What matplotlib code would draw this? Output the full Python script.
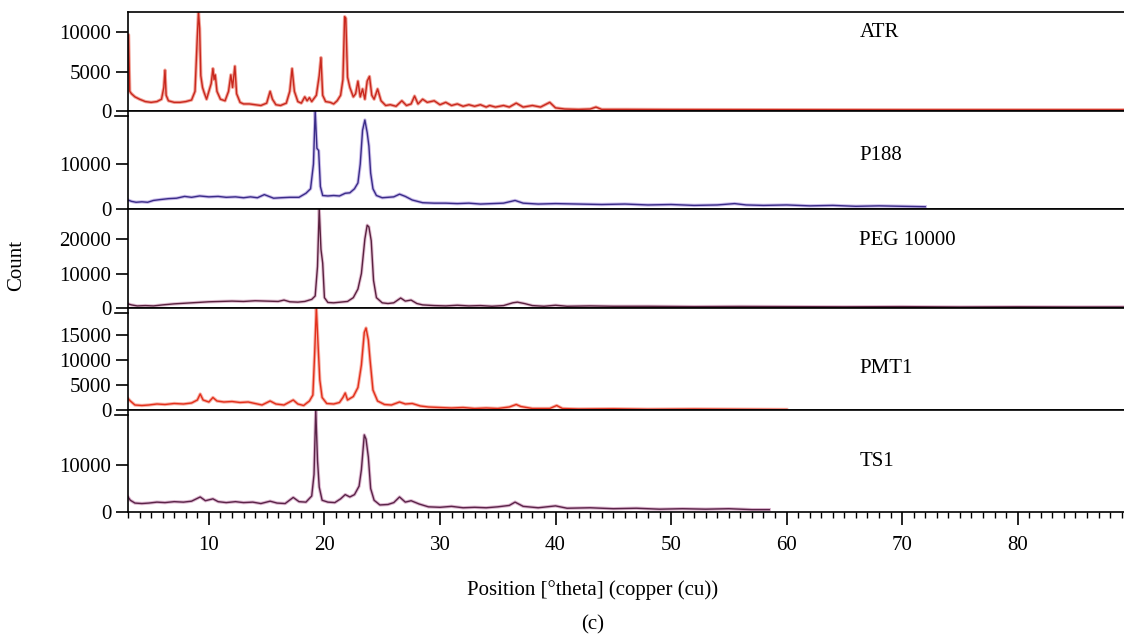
import matplotlib
matplotlib.use('Agg')
import matplotlib.pyplot as plt
from matplotlib.ticker import MultipleLocator

plt.rcParams['font.family'] = ['Liberation Serif', 'DejaVu Serif']

# 2theta / count pairs
atr_x = [3.0, 3.05, 3.15, 3.3, 3.6, 4.0, 4.5, 5.0, 5.5, 5.9, 6.1, 6.2, 6.3, 6.5, 7.0, 7.5, 8.0, 8.5, 8.8,
         9.0, 9.1, 9.2, 9.3, 9.45, 9.6, 9.8, 10.0, 10.2, 10.35, 10.45, 10.55, 10.7, 11.0, 11.4, 11.7, 11.9,
         12.05, 12.25, 12.4, 12.7, 13.0, 13.5, 14.0, 14.5, 15.0, 15.3, 15.5, 15.8, 16.2, 16.7, 17.0, 17.2,
         17.4, 17.7, 18.0, 18.3, 18.5, 18.7, 18.9, 19.1, 19.3, 19.55, 19.7, 19.85, 20.1, 20.5, 20.8, 21.1,
         21.4, 21.6, 21.75, 21.85, 22.0, 22.2, 22.5, 22.7, 22.9, 23.1, 23.3, 23.5, 23.7, 23.9, 24.1, 24.3,
         24.6, 24.9, 25.3, 25.7, 26.2, 26.7, 27.1, 27.5, 27.8, 28.1, 28.5, 28.9, 29.5, 30.0, 30.5, 31.0,
         31.5, 32.0, 32.5, 33.0, 33.5, 34.0, 34.3, 34.8, 35.5, 36.0, 36.6, 37.2, 38.0, 38.7, 39.5, 40.0,
         40.8, 42.0, 43.0, 43.5, 44.0, 46.0, 50.0, 55.0, 60.0, 65.0, 70.0, 75.0, 80.0, 85.0, 89.2]
atr_y = [9700, 9700, 2500, 2200, 1800, 1500, 1200, 1100, 1200, 1500, 3000, 5200, 2000, 1300, 1100, 1100, 1200,
         1400, 2500, 9500, 12600, 10500, 4500, 3000, 2300, 1500, 2500, 3500, 5400, 4000, 4600, 2500, 1500,
         1300, 2500, 4600, 3000, 5700, 2200, 1100, 900, 900, 800, 700, 1000, 2500, 1500, 800, 700, 1000,
         2500, 5400, 2500, 1200, 1000, 1800, 1300, 1700, 1200, 1600, 2000, 4500, 6800, 2000, 1200, 1100,
         900, 1300, 2000, 4000, 12000, 11800, 4300, 3000, 1800, 2200, 3800, 1800, 2800, 1500, 3800, 4400,
         2000, 1500, 2800, 1300, 700, 800, 600, 1300, 700, 900, 1900, 900, 1500, 1100, 1300, 800, 1100,
         700, 900, 600, 800, 600, 800, 500, 700, 500, 700, 500, 1000, 500, 700, 500, 1100, 400, 250, 200,
         250, 500, 200, 200, 180, 170, 160, 150, 150, 150, 150, 150, 150]

p188_x = [3.0, 3.3, 3.7, 4.2, 4.7, 5.2, 5.8, 6.5, 7.2, 7.9, 8.5, 9.2, 10.0, 10.8, 11.5, 12.3, 13.0, 13.6,
          14.2, 14.8, 15.2, 15.6, 16.2, 17.0, 17.8, 18.4, 18.8, 19.05, 19.2, 19.35, 19.5, 19.65, 19.85,
          20.3, 20.8, 21.3, 21.8, 22.2, 22.6, 22.9, 23.1, 23.3, 23.5, 23.7, 23.85, 24.0, 24.2, 24.5, 25.0,
          25.5, 26.0, 26.5, 27.0, 27.6, 28.5, 29.5, 30.5, 31.5, 32.5, 33.5, 34.5, 35.5, 36.5, 37.2, 38.5,
          40.0, 42.0, 44.0, 46.0, 48.0, 50.0, 52.0, 54.0, 55.5, 56.5, 58.0, 60.0, 62.0, 64.0, 66.0, 68.0,
          70.0, 72.0]
p188_y = [2000, 1700, 1500, 1600, 1500, 1900, 2100, 2300, 2400, 2800, 2600, 2900, 2700, 2800, 2600, 2700,
          2500, 2700, 2500, 3200, 2800, 2400, 2500, 2600, 2600, 3500, 4500, 10000, 21800, 13500, 13000, 5000,
          3000, 2900, 3000, 2900, 3500, 3600, 4500, 5800, 10000, 17500, 19800, 17000, 14000, 8000, 4500, 3000,
          2500, 2600, 2700, 3300, 2800, 2000, 1400, 1300, 1300, 1200, 1300, 1100, 1200, 1300, 1900, 1300, 1100,
          1200, 1100, 1000, 1100, 900, 1000, 800, 900, 1200, 900, 800, 900, 700, 800, 600, 700, 600, 500]

peg_x = [3.0, 3.3, 3.8, 4.5, 5.2, 6.0, 7.0, 8.0, 9.0, 10.0, 11.0, 12.0, 13.0, 14.0, 15.0, 16.0, 16.5, 17.0,
         17.7, 18.3, 18.9, 19.2, 19.4, 19.55, 19.7, 19.85, 20.0, 20.3, 20.8, 21.4, 22.0, 22.5, 22.9, 23.2,
         23.5, 23.7, 23.85, 24.05, 24.25, 24.5, 25.0, 25.5, 26.0, 26.6, 27.0, 27.5, 28.0, 28.5, 29.5, 30.5,
         31.5, 32.5, 33.5, 34.5, 35.5, 36.3, 36.7, 37.3, 38.0, 39.0, 40.0, 41.0, 43.0, 45.0, 48.0, 52.0,
         56.0, 60.0, 65.0, 70.0, 75.0, 80.0, 85.0, 89.2]
peg_y = [1200, 900, 600, 700, 600, 900, 1200, 1400, 1600, 1800, 1900, 2000, 1900, 2100, 2000, 1900, 2300,
         1800, 1700, 1900, 2500, 3500, 12000, 28700, 17000, 13000, 3000, 1600, 1500, 1700, 1900, 3000, 5500,
         10000, 20000, 24000, 23500, 19500, 8000, 3000, 1500, 1300, 1500, 2900, 2000, 2300, 1300, 900, 700,
         600, 800, 600, 700, 500, 700, 1500, 1700, 1300, 700, 500, 800, 500, 600, 500, 500, 400, 450, 400,
         350, 400, 300, 350, 300, 300]

pmt1_x = [3.0, 3.2, 3.6, 4.2, 4.8, 5.5, 6.2, 7.0, 7.8, 8.5, 9.0, 9.25, 9.5, 10.0, 10.35, 10.7, 11.3, 12.0,
          12.7, 13.4, 14.0, 14.6, 15.3, 15.8, 16.5, 17.3, 17.7, 18.2, 18.7, 19.0, 19.15, 19.3, 19.45, 19.6,
          19.8, 20.2, 20.8, 21.3, 21.6, 21.8, 22.0, 22.5, 22.9, 23.2, 23.45, 23.6, 23.8, 23.95, 24.2, 24.6,
          25.2, 25.8, 26.5, 27.0, 27.6, 28.3, 29.0, 30.0, 31.0, 32.0, 33.0, 34.0, 35.0, 36.0, 36.6, 37.0,
          38.0, 39.5, 40.1, 40.6, 42.0, 45.0, 48.0, 52.0, 56.0, 60.0]
pmt1_y = [2300, 1800, 1000, 900, 1000, 1200, 1100, 1300, 1200, 1400, 2000, 3200, 2000, 1600, 2500, 1800,
          1600, 1700, 1500, 1600, 1300, 1000, 1800, 1200, 1000, 2000, 1200, 900, 1800, 3000, 11000, 20400,
          13000, 6000, 2500, 1300, 1200, 1500, 2500, 3400, 2000, 2700, 4500, 9000, 15500, 16400, 14000, 10000,
          4000, 1800, 1100, 1000, 1600, 1200, 1300, 800, 600, 500, 400, 500, 300, 400, 300, 600, 1100, 700,
          300, 300, 900, 300, 200, 250, 150, 200, 150, 100]

ts1_x = [3.0, 3.2, 3.6, 4.2, 4.8, 5.5, 6.2, 7.0, 7.8, 8.5, 9.25, 9.7, 10.35, 10.8, 11.5, 12.3, 13.0, 13.8,
         14.5, 15.3, 15.9, 16.6, 17.3, 17.8, 18.4, 18.9, 19.1, 19.25, 19.4, 19.55, 19.8, 20.3, 20.9, 21.4,
         21.8, 22.2, 22.6, 23.0, 23.2, 23.45, 23.6, 23.8, 24.0, 24.3, 24.8, 25.5, 26.0, 26.5, 27.0, 27.5,
         28.2, 29.0, 30.0, 31.0, 32.0, 33.0, 34.0, 35.0, 36.0, 36.5, 37.2, 38.5, 40.0, 41.0, 43.0, 45.0,
         47.0, 49.0, 51.0, 53.0, 55.0, 57.0, 58.5]
ts1_y = [3200, 2500, 1900, 1800, 1900, 2100, 2000, 2200, 2100, 2300, 3200, 2400, 2800, 2200, 2000, 2200,
         2000, 2100, 1800, 2300, 1900, 1800, 3100, 2200, 2100, 3400, 8000, 21700, 11000, 5300, 2500, 2100,
         2000, 2800, 3700, 3200, 3700, 5500, 9000, 16400, 15500, 11700, 5000, 2500, 1500, 1600, 2000, 3200,
         2100, 2400, 1700, 1100, 1000, 1200, 900, 1000, 900, 1100, 1400, 2100, 1200, 900, 1300, 800, 900,
         700, 800, 600, 700, 600, 700, 500, 500]

names = ['ATR', 'P188', 'PEG 10000', 'PMT1', 'TS1']
xs = [atr_x, p188_x, peg_x, pmt1_x, ts1_x]
ys = [atr_y, p188_y, peg_y, pmt1_y, ts1_y]
ytops = [12600, 21800, 28700, 20400, 21700]
yticks = [[0, 5000, 10000], [0, 10000], [0, 10000, 20000], [0, 5000, 10000, 15000], [0, 10000]]
label_y = [0.79, 0.55, 0.68, 0.41, 0.50]

dark = ['#c8281e', '#3a2c88', '#5a2240', '#e2301c', '#5a2448']
light = ['#f2a49a', '#c9bbe9', '#e2bfd2', '#f7b0a6', '#dcb5cf']

W, H = 1124, 637
edges = [12, 111, 209, 308, 410, 512]
fs = 15

fig = plt.figure(figsize=(W / 100, H / 100), dpi=100)
axes = []
for i in range(5):
    top, bot = edges[i], edges[i + 1]
    ax = fig.add_axes([128 / W, 1 - bot / H, 1 - 128 / W, (bot - top) / H])
    ax.plot(xs[i], ys[i], color=light[i], lw=2.4, solid_joinstyle='round')
    ax.plot(xs[i], ys[i], color=dark[i], lw=1.0)
    ax.set_xlim(3, 89.2)
    ax.set_ylim(0, ytops[i])
    ax.set_yticks(yticks[i])
    ax.spines['right'].set_visible(False)
    for s in ['left', 'top', 'bottom']:
        ax.spines[s].set_linewidth(1.2)
    ax.tick_params(axis='y', direction='out', length=9, width=1.2, labelsize=fs, pad=3)
    ax.text(66.3, label_y[i], names[i], transform=ax.get_xaxis_transform(),
            fontsize=fs, va='center', ha='left')
    if i in (1, 3, 4):
        # axis break mark just under the panel's top
        ax.plot([-0.013, 0], [0.95, 0.95], transform=ax.transAxes, color='k', lw=1.2, clip_on=False)
    if i < 4:
        ax.tick_params(axis='x', bottom=False, labelbottom=False)
    else:
        ax.xaxis.set_major_locator(MultipleLocator(10))
        ax.xaxis.set_minor_locator(MultipleLocator(1))
        ax.tick_params(axis='x', which='major', direction='out', length=9, width=1.2, labelsize=fs, pad=8)
        ax.tick_params(axis='x', which='minor', direction='out', length=4.5, width=1.0)
    axes.append(ax)

fig.text(17 / W, 1 - 265 / H, 'Count', rotation=90, ha='center', va='center', fontsize=fs)
fig.text(593 / W, 1 - 590 / H, 'Position [°theta] (copper (cu))', ha='center', va='center', fontsize=fs)
fig.text(593 / W, 1 - 625 / H, '(c)', ha='center', va='center', fontsize=fs)

fig.savefig('out.png', dpi=100)
